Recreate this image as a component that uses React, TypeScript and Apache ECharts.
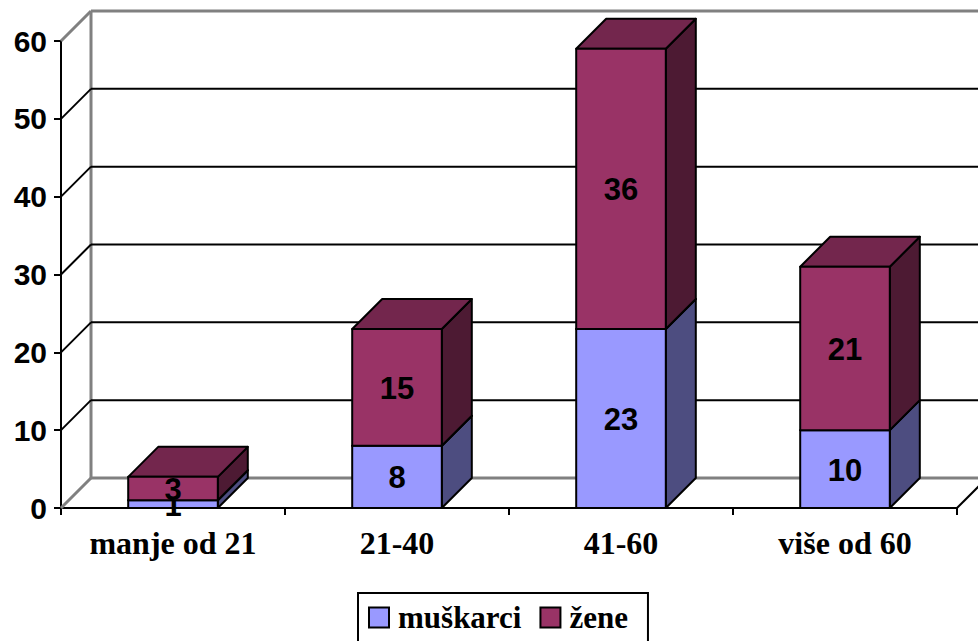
import React, { useEffect, useRef } from "react";
import * as echarts from "echarts";

const categories = ["manje od 21", "21-40", "41-60", "više od 60"];
const muskarci = [1, 8, 23, 10];
const zene = [3, 15, 36, 21];
const yTicks = [0, 10, 20, 30, 40, 50, 60];

const DX = 30;
const DY = 30;

const COLORS = {
  m: { front: "#9999FF", side: "#4D4D80", top: "#7373BF" },
  z: { front: "#993366", side: "#4D1A33", top: "#73264D" },
};

function makeBarRender(values: number[], col: { front: string; side: string; top: string }) {
  return (params: any, api: any) => {
    const i = api.value(0);
    const b = api.value(1);
    const t = api.value(2);
    const bw = api.size([1, 0])[0] * 0.4;
    const pb = api.coord([i, b]);
    const pt = api.coord([i, t]);
    const x0 = pb[0] - bw / 2;
    const x1 = pb[0] + bw / 2;
    const yb = pb[1];
    const yt = pt[1];
    const edge = { stroke: "#000", lineWidth: 2, lineJoin: "round" };
    return {
      type: "group",
      children: [
        {
          type: "polygon",
          shape: { points: [[x1, yb], [x1 + DX, yb - DY], [x1 + DX, yt - DY], [x1, yt]] },
          style: { fill: col.side, ...edge },
        },
        {
          type: "polygon",
          shape: { points: [[x0, yt], [x1, yt], [x1 + DX, yt - DY], [x0 + DX, yt - DY]] },
          style: { fill: col.top, ...edge },
        },
        {
          type: "rect",
          shape: { x: x0, y: yt, width: bw, height: yb - yt },
          style: { fill: col.front, ...edge },
        },
        {
          type: "text",
          x: pb[0],
          y: (yb + yt) / 2 + 1,
          style: {
            text: String(values[params.dataIndex]),
            align: "center",
            verticalAlign: "middle",
            fontFamily: "Liberation Sans",
            fontWeight: "bold",
            fontSize: 31,
            fill: "#000",
          },
        },
      ],
    };
  };
}

const wallRender = (params: any, api: any) => {
  const v = api.value(1);
  const p = api.coord([0, v]);
  const band = api.size([1, 0])[0];
  const xL = p[0] - band / 2;
  const xR = xL + band * categories.length;
  const y = p[1];
  const isEdge = params.dataIndex === 0 || params.dataIndex === yTicks.length - 1;
  const color = isEdge ? "#808080" : "#000";
  const lw = isEdge ? 3 : 2;
  const children: any[] = [
    {
      type: "line",
      shape: { x1: xL + DX, y1: y - DY, x2: xR + DX, y2: y - DY },
      style: { stroke: color, lineWidth: lw },
    },
    {
      type: "line",
      shape: { x1: xL, y1: y, x2: xL + DX, y2: y - DY },
      style: { stroke: color, lineWidth: lw },
    },
  ];
  if (params.dataIndex === 0) {
    const yTop = api.coord([0, yTicks[yTicks.length - 1]])[1];
    children.push({
      type: "line",
      shape: { x1: xL + DX, y1: y - DY, x2: xL + DX, y2: yTop - DY },
      style: { stroke: "#808080", lineWidth: 3 },
    });
    children.push({
      type: "line",
      shape: { x1: xR, y1: y, x2: xR + DX, y2: y - DY },
      style: { stroke: "#000", lineWidth: 2 },
    });
  }
  return { type: "group", children };
};

export default function App() {
  const ref = useRef<HTMLDivElement>(null);
  useEffect(() => {
    if (!ref.current) return;
    const chart = echarts.init(ref.current, undefined, { renderer: "svg" });
    const mData = categories.map((_, i) => [i, 0, muskarci[i]]);
    const zData = categories.map((_, i) => [i, muskarci[i], muskarci[i] + zene[i]]);
    chart.setOption({
      animation: false,
      backgroundColor: "#fff",
      grid: { left: 61, right: 21, top: 41, bottom: 133, containLabel: false },
      xAxis: {
        type: "category",
        data: categories,
        boundaryGap: true,
        axisLine: { lineStyle: { color: "#000", width: 2 } },
        axisTick: { show: true, length: 7, lineStyle: { color: "#000", width: 2 } },
        axisLabel: {
          fontFamily: "Liberation Serif",
          fontWeight: "bold",
          fontSize: 32,
          color: "#000",
          margin: 19,
        },
        splitLine: { show: false },
      },
      yAxis: {
        type: "value",
        min: 0,
        max: 60,
        interval: 10,
        axisLine: { show: true, lineStyle: { color: "#000", width: 2 } },
        axisTick: { show: true, length: 7, lineStyle: { color: "#000", width: 2 } },
        axisLabel: {
          fontFamily: "Liberation Sans",
          fontWeight: "bold",
          fontSize: 30,
          color: "#000",
          margin: 14,
        },
        splitLine: { show: false },
      },
      legend: {
        left: 358,
        top: 593,
        orient: "horizontal",
        borderColor: "#000",
        borderWidth: 2,
        padding: [9, 20, 9, 10],
        itemWidth: 20,
        itemHeight: 20,
        itemGap: 18,
        icon: "rect",
        textStyle: {
          fontFamily: "Liberation Serif",
          fontWeight: "bold",
          fontSize: 31,
          color: "#000",
          padding: [0, 0, 0, 4],
        },
        data: [
          { name: "muškarci", itemStyle: { color: COLORS.m.front, borderColor: "#000", borderWidth: 2 } },
          { name: "žene", itemStyle: { color: COLORS.z.front, borderColor: "#000", borderWidth: 2 } },
        ],
      },
      series: [
        {
          type: "custom",
          name: "wall",
          renderItem: wallRender,
          data: yTicks.map((v) => [0, v]),
          encode: { x: 0, y: 1 },
          clip: false,
          silent: true,
          z: 1,
        },
        {
          type: "custom",
          name: "muškarci",
          renderItem: makeBarRender(muskarci, COLORS.m),
          data: mData,
          encode: { x: 0, y: [1, 2] },
          itemStyle: { color: COLORS.m.front },
          clip: false,
          z: 3,
        },
        {
          type: "custom",
          name: "žene",
          renderItem: makeBarRender(zene, COLORS.z),
          data: zData,
          encode: { x: 0, y: [1, 2] },
          itemStyle: { color: COLORS.z.front },
          clip: false,
          z: 4,
        },
      ],
    });
    return () => chart.dispose();
  }, []);
  return (
    <div
      ref={ref}
      style={{ position: "fixed", left: 0, top: 0, width: 978, height: 641, background: "#fff" }}
    />
  );
}
